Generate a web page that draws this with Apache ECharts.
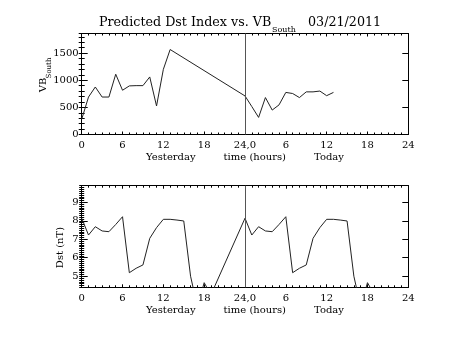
<!DOCTYPE html>
<html><head><meta charset="utf-8">
<script src="https://cdn.jsdelivr.net/npm/echarts@6/dist/echarts.min.js"></script>
<style>html,body{margin:0;padding:0;background:#fff}#c{width:453px;height:340px}</style>
</head><body><div id="c"></div>
<script>
// ---- data ----
const vbHours = [0,1,2,3,4,5,6,7,8,9,10,11,12,13,24,25,26,27,28,29,30,31,32,33,34,35,36,37];
const vbSouth = [280,690,875,690,690,1110,815,895,900,900,1060,525,1200,1565,710,515,315,680,450,545,775,755,680,785,785,800,715,775];
const dstHours = [0,1,2,3,4,5,6,7,8,9,10,11,12,13,14,15,16,17,18,19,24,25,26,27,28,29,30,31,32,33,34,35,36,37,38,39,40,41,42,43];
const dstValues = [8.14,7.23,7.68,7.45,7.41,7.8,8.22,5.19,5.43,5.61,7.05,7.63,8.08,8.08,8.04,7.99,5.0,3.35,4.65,4.0,
                   8.14,7.23,7.68,7.45,7.41,7.8,8.22,5.19,5.43,5.61,7.05,7.63,8.08,8.08,8.04,7.99,5.0,3.35,4.65,4.0];
const xTickLabels = ['0','6','12','18','24,0','6','12','18','24'];
const dayBoundary = 24;
const titleMain = 'Predicted Dst Index vs. VB';
const titleSub = 'South';
const titleDate = '03/21/2011';

// ---- chart ----
const FONT = 'DejaVu Serif';
const BLACK = '#000';
const chart = echarts.init(document.getElementById('c'), null, {renderer:'canvas'});
const grids = [
  {left: 81.7, right: 44.7, top: 33.5, height: 101},
  {left: 81.7, right: 44.7, top: 185.7, height: 101.6}
];
function xAx(gi, pos) {
  const bottom = pos === 'bottom';
  return {
    type: 'value', gridIndex: gi, position: pos, min: 0, max: 48, interval: 6,
    axisLine: {show: true, onZero: false, lineStyle: {color: BLACK, width: 1}},
    axisTick: {show: true, inside: true, length: 3, lineStyle: {color: BLACK}},
    minorTick: {show: true, splitNumber: 6, length: 2, lineStyle: {color: BLACK}},
    splitLine: {show: false},
    axisLabel: {show: bottom, margin: 6, fontFamily: FONT, fontSize: 10, color: BLACK,
      formatter: v => xTickLabels[Math.round(v / 6)]},
    name: bottom ? '{a|Yesterday}{g|}{a|time (hours)}{g|}{a|Today}' : '',
    nameLocation: 'middle', nameGap: 15,
    nameTextStyle: {rich: {a: {fontFamily: FONT, fontSize: 10, color: BLACK}, g: {width: 28}}}
  };
}
function yAx(gi, pos, min, max, opts) {
  return Object.assign({
    type: 'value', gridIndex: gi, position: pos, min: min, max: max,
    axisLine: {show: true, onZero: false, lineStyle: {color: BLACK, width: 1}},
    axisTick: {show: true, inside: true, length: 6, lineStyle: {color: BLACK}},
    splitLine: {show: false},
    axisLabel: {show: false}
  }, opts);
}
const intLabel = (step) => ({show: true, margin: 3, fontFamily: FONT, fontSize: 10, color: BLACK,
  formatter: v => (Math.abs(v / step - Math.round(v / step)) < 1e-6 ? String(Math.round(v)) : '')});
const minorOpts = (iv, len) => ({interval: iv, axisLine: {show: false},
  axisTick: {show: true, inside: true, length: len, lineStyle: {color: BLACK}}});

const option = {
  animation: false,
  backgroundColor: '#fff',
  title: [
    {text: titleMain, left: 99, top: 16, padding: 0, textStyle: {fontFamily: FONT, fontSize: 12.7, fontWeight: 'normal', color: BLACK}},
    {text: titleSub, left: 272, top: 26, padding: 0, textStyle: {fontFamily: FONT, fontSize: 8, fontWeight: 'normal', color: BLACK}},
    {text: titleDate, left: 308, top: 16, padding: 0, textStyle: {fontFamily: FONT, fontSize: 12.7, fontWeight: 'normal', color: BLACK}}
  ],
  grid: grids,
  xAxis: [xAx(0, 'bottom'), xAx(0, 'top'), xAx(1, 'bottom'), xAx(1, 'top')],
  yAxis: [
    yAx(0, 'left', 0, 1860, {interval: 500, axisLabel: intLabel(500)}),
    yAx(0, 'right', 0, 1860, {interval: 500}),
    yAx(1, 'left', 4.4, 9.9, {splitNumber: 5, axisLabel: intLabel(1)}),
    yAx(1, 'right', 4.4, 9.9, {splitNumber: 5}),
    yAx(0, 'left', 0, 1860, minorOpts(100, 3)),
    yAx(0, 'right', 0, 1860, minorOpts(100, 3)),
    yAx(1, 'left', 4.4, 9.9, minorOpts(0.1, 2.5)),
    yAx(1, 'right', 4.4, 9.9, minorOpts(0.1, 2.5))
  ],
  graphic: [
    {type: 'text', x: 43, y: 85, rotation: Math.PI / 2, style: {text: 'VB', fontFamily: FONT, fontSize: 10, fill: BLACK, align: 'center', verticalAlign: 'middle'}},
    {type: 'text', x: 49.5, y: 68, rotation: Math.PI / 2, style: {text: 'South', fontFamily: FONT, fontSize: 7, fill: BLACK, align: 'center', verticalAlign: 'middle'}},
    {type: 'text', x: 60, y: 247.5, rotation: Math.PI / 2, style: {text: 'Dst (nT)', fontFamily: FONT, fontSize: 10, fill: BLACK, align: 'center', verticalAlign: 'middle'}}
  ],
  series: [
    {type: 'line', xAxisIndex: 0, yAxisIndex: 0, showSymbol: false, symbol: 'none',
     lineStyle: {color: '#222', width: 1}, data: vbHours.map((h, i) => [h, vbSouth[i]]),
     markLine: {silent: true, symbol: ['none', 'none'], label: {show: false}, lineStyle: {color: '#555', width: 1, type: 'solid'}, data: [{xAxis: dayBoundary}]}},
    {type: 'line', xAxisIndex: 2, yAxisIndex: 2, showSymbol: false, symbol: 'none', clip: true,
     lineStyle: {color: '#222', width: 1}, data: dstHours.map((h, i) => [h, dstValues[i]]),
     markLine: {silent: true, symbol: ['none', 'none'], label: {show: false}, lineStyle: {color: '#555', width: 1, type: 'solid'}, data: [{xAxis: dayBoundary}]}}
  ]
};
chart.setOption(option);
</script>
</body></html>
